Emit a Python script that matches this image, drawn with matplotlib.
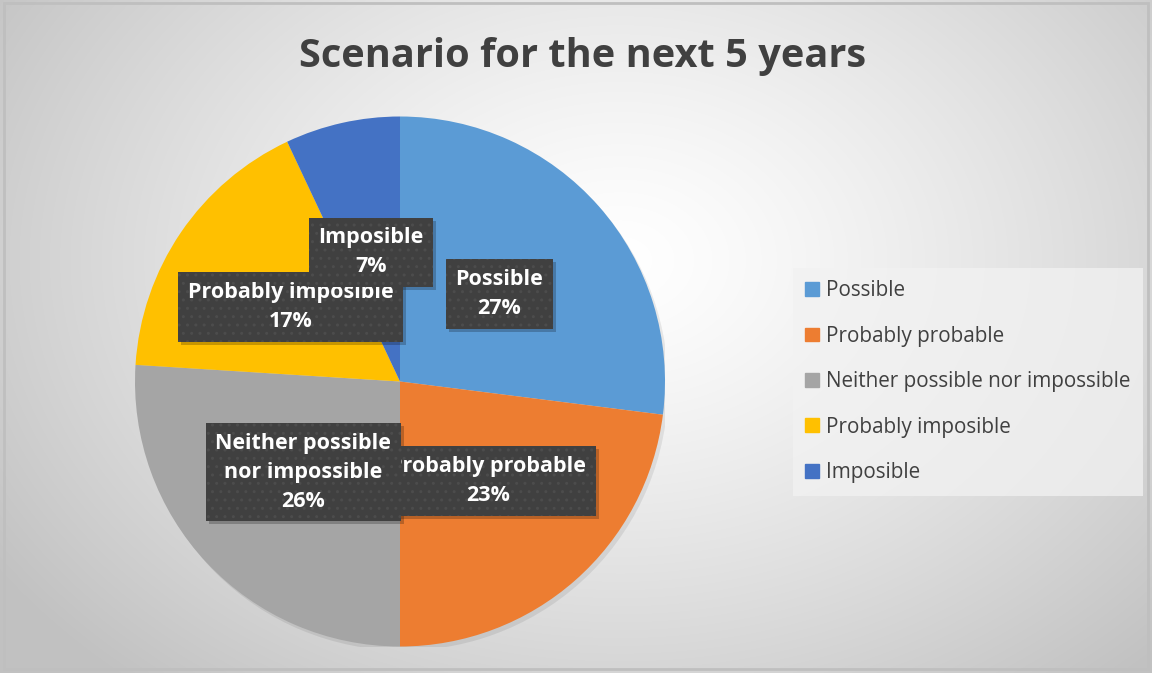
import numpy as np
import matplotlib.pyplot as plt
from matplotlib.patches import Patch, Rectangle, Circle
from matplotlib.transforms import IdentityTransform

plt.rcParams['font.family'] = ['Open Sans', 'DejaVu Sans']

TITLE = 'Scenario for the next 5 years'
categories = ['Possible', 'Probably probable', 'Neither possible nor impossible',
              'Probably imposible', 'Imposible']
box_labels = ['Possible', 'Probably probable', 'Neither possible\nnor impossible',
              'Probably imposible', 'Imposible']
percents = [27, 23, 26, 17, 7]
colors = ['#5b9bd5', '#ed7d31', '#a5a5a5', '#ffc000', '#4472c4']

W, H = 1152, 673
fig = plt.figure(figsize=(W / 100, H / 100), dpi=100)

# background: soft radial gradient like the office chart style
bg = fig.add_axes([0, 0, 1, 1])
yy, xx = np.mgrid[0:H, 0:W]
d = np.sqrt(((xx - 620) / 700.0) ** 2 + ((yy - 260) / 520.0) ** 2)
shade = np.clip(1.0 - 0.22 * d ** 1.3, 0.76, 1.0)
bg.imshow(np.dstack([shade] * 3), extent=[0, W, H, 0], aspect='auto')
bg.add_patch(Rectangle((4, 3), W - 8, H - 7, fill=False, ec='#bfbfbf', lw=2))
bg.set_xlim(0, W)
bg.set_ylim(H, 0)
bg.axis('off')

fig.text(583 / W, 1 - 57 / H, TITLE, ha='center', va='center', fontsize=28.6,
         fontweight='bold', color='#404040')

# pie: centre (400, 381) px, radius 265 px
cx, cy, r = 400, 381.5, 265
ax = fig.add_axes([(cx - r) / W, (H - cy - r) / H, 2 * r / W, 2 * r / H])
ax.add_patch(Circle((0.012, -0.015), 1.0, fc='#000000', alpha=0.08, lw=0))
lbl_iter = iter(box_labels)
wedges, _, autotexts = ax.pie(
    percents, colors=colors, startangle=90, counterclock=False, radius=1,
    pctdistance=0.5, autopct=lambda p: '{}\n{:.0f}%'.format(next(lbl_iter), p),
    wedgeprops=dict(linewidth=0),
    textprops=dict(color='white', fontsize=15.5, fontweight='bold', linespacing=1.5))

for t in autotexts:
    t.set_ha('center')
    t.set_zorder(5)
    t.set_bbox(dict(boxstyle='square,pad=0.45', fc='#404040', ec='#4c4c4c',
                    lw=0, hatch='..'))
ax.set_xlim(-1, 1)
ax.set_ylim(-1, 1)
ax.axis('off')

# drop shadow behind each label box, sized from the drawn box
fig.canvas.draw()
for t in autotexts:
    bb = t.get_bbox_patch().get_window_extent()
    ax.add_patch(Rectangle((bb.x0 + 3, bb.y0 - 3), bb.width, bb.height,
                           transform=IdentityTransform(), fc='#000000',
                           alpha=0.22, lw=0, zorder=4))

handles = [Patch(color=c, label=n) for c, n in zip(colors, categories)]
leg = fig.legend(handles=handles, loc='upper left', bbox_to_anchor=(793 / W, 1 - 268 / H),
                 fontsize=14.9, frameon=True, fancybox=False, handlelength=0.65,
                 handleheight=0.65, handletextpad=0.35, labelspacing=1.18,
                 borderpad=0.6, borderaxespad=0)
leg.get_frame().set_facecolor('#f2f2f2')
leg.get_frame().set_alpha(0.75)
leg.get_frame().set_linewidth(0)
for txt in leg.get_texts():
    txt.set_color('#404040')

fig.savefig('out.png', dpi=100)
